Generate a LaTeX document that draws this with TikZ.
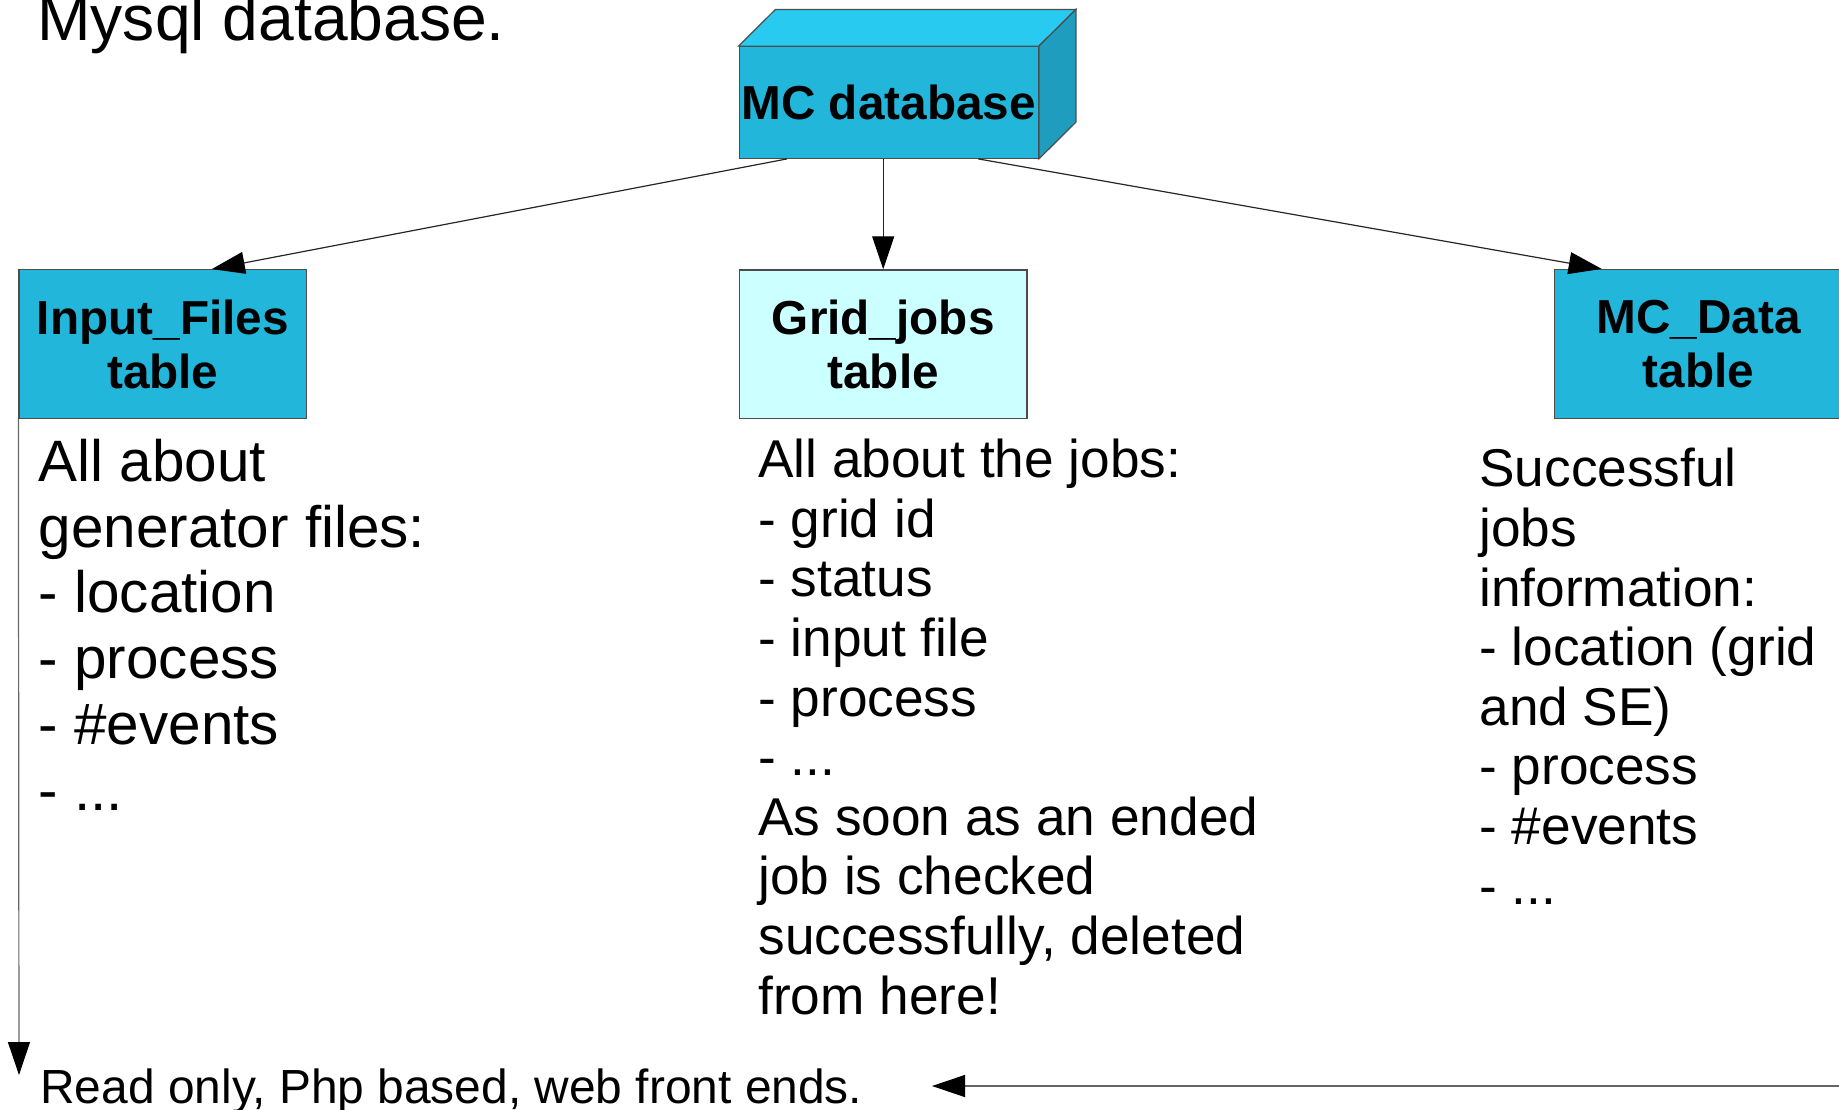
\documentclass[tikz,border=0pt]{standalone}
\usepackage{fontspec}
\setmainfont{Liberation Sans}
\usetikzlibrary{arrows.meta,calc}

\definecolor{dbblue}{HTML}{23B6DB}
\definecolor{dbtop}{HTML}{28CAEF}
\definecolor{dbside}{HTML}{1E9DBE}
\definecolor{jobcyan}{HTML}{CCFFFF}

\begin{document}
\begin{tikzpicture}[x=0.5pt,y=-0.5pt,
	tablebox/.style={draw=black!70, line width=0.6pt, minimum width=143.8pt, minimum height=74.3pt, inner sep=0pt, align=center, font=\bfseries\fontsize{23.85}{27}\selectfont},
	info/.style={anchor=base west, inner sep=0pt, align=left},
	link/.style={-{Triangle[length=16.5pt,width=11pt,color=black]}, line width=0.6pt, draw=black!85}]
	\useasboundingbox (0,0) rectangle (1839,1109);
	\clip (0,0) rectangle (1839,1109);

		\node[info, font=\fontsize{32.1}{36}\selectfont] (T) at (37,40) {Mysql database.};

		\node[tablebox, fill=dbblue, minimum width=149.6pt, minimum height=55.8pt] (DB) at (888.7,102.5) {MC database};
			\filldraw[fill=dbtop, draw=black!70, line width=0.6pt] (DB.north west) -- ++(37,-36.7) -- ($(DB.north east)+(37,-36.7)$) -- (DB.north east) -- cycle;
			\filldraw[fill=dbside, draw=black!70, line width=0.6pt] (DB.north east) -- ++(37,-36.7) -- ($(DB.south east)+(37,-36.7)$) -- (DB.south east) -- cycle;

		\node[tablebox, fill=dbblue] (IF) at (162.8,344) {Input\_Files\\table};
		\node[tablebox, fill=jobcyan] (GJ) at (883.2,344.2) {Grid\_jobs\\table};
		\node[tablebox, fill=dbblue] (MD) at (1698.5,343.8) {MC\_Data\\table};

		\draw[link] ($(DB.south)+(-101.7,0)$) -- ($(IF.north)+(49,0)$);
		\draw[link] (DB.south -| GJ.north) -- (GJ.north);
		\draw[link] ($(DB.south)+(89.6,0)$) -- ($(MD.north)+(-96.8,0)$);

		% base of a multi-line node is its last line
		\node[info, font=\fontsize{29.2}{32.85}\selectfont] (IFtxt) at (38.5,810) {All about\\generator files:\\- location\\- process\\- \#events\\- ...};
		\node[info, font=\fontsize{26.6}{29.8}\selectfont] (GJtxt) at (758,1014) {All about the jobs:\\- grid id\\- status\\- input file\\- process\\- ...\\As soon as an ended\\job is checked\\successfully, deleted\\from here!};
		\node[info, font=\fontsize{26.6}{29.8}\selectfont] (MDtxt) at (1479,904) {Successful\\jobs\\information:\\- location (grid\\and SE)\\- process\\- \#events\\- ...};

		\node[info, font=\fontsize{23.95}{28}\selectfont] (RO) at (40,1103) {Read only, Php based, web front ends.};
		\coordinate (ROtop) at (19,1075);
		\coordinate (ROend) at (932,1086);
		\coordinate (WEB) at (1850,1086);
		\draw[link, draw=black!60] (IF.south west) -- (ROtop);
		\draw[link, draw=black!60] (WEB) -- (ROend);
\end{tikzpicture}
\end{document}
